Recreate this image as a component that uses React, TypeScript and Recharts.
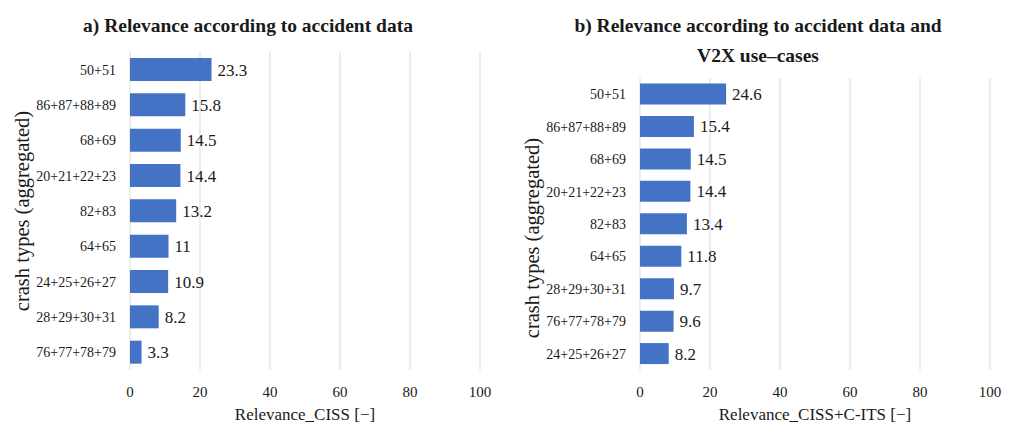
import { BarChart, Bar, XAxis, YAxis, CartesianGrid, LabelList, Label } from "recharts"

const FONT = "Liberation Serif, DejaVu Serif, serif"
const BAR_COLOR = "#4472C4"
const GRID_COLOR = "#d9d9d9"
const TEXT_COLOR = "#1a1a1a"

const X_TICKS = [0, 20, 40, 60, 80, 100]

// a) accident data only
const crashTypesA = [
  "50+51",
  "86+87+88+89",
  "68+69",
  "20+21+22+23",
  "82+83",
  "64+65",
  "24+25+26+27",
  "28+29+30+31",
  "76+77+78+79",
]
const relevanceA = [23.3, 15.8, 14.5, 14.4, 13.2, 11, 10.9, 8.2, 3.3]

// b) accident data + V2X use-cases
const crashTypesB = [
  "50+51",
  "86+87+88+89",
  "68+69",
  "20+21+22+23",
  "82+83",
  "64+65",
  "28+29+30+31",
  "76+77+78+79",
  "24+25+26+27",
]
const relevanceB = [24.6, 15.4, 14.5, 14.4, 13.4, 11.8, 9.7, 9.6, 8.2]

type PanelProps = {
  categories: string[]
  values: number[]
  xLabel: string
  top: number
  yLabelShift?: number
}

function RotatedLabel({ viewBox, shift }: any) {
  const cx = 22
  const cy = viewBox.y + viewBox.height / 2 + (shift ?? 0)
  return (
    <text
      x={cx}
      y={cy}
      transform={`rotate(-90 ${cx} ${cy})`}
      textAnchor="middle"
      dominantBaseline="central"
      style={{ fontFamily: FONT, fontSize: 20.5, fill: TEXT_COLOR }}
    >
      crash types (aggregated)
    </text>
  )
}

function Panel({ categories, values, xLabel, top, yLabelShift }: PanelProps) {
  const data = categories.map((c, i) => ({ type: c, value: values[i] }))
  return (
    <BarChart
      width={500}
      height={427}
      data={data}
      layout="vertical"
      margin={{ top, right: 20, bottom: 0, left: 0 }}
      barCategoryGap="17%"
      style={{ fontFamily: FONT }}
    >
      <CartesianGrid horizontal={false} stroke={GRID_COLOR} strokeWidth={1} />
      <XAxis
        type="number"
        domain={[0, 100]}
        ticks={X_TICKS}
        axisLine={false}
        tickLine={false}
        tickMargin={10}
        height={57}
        tick={{ fontFamily: FONT, fontSize: 15, fill: TEXT_COLOR }}
      >
        <Label
          value={xLabel}
          position="insideBottom"
          offset={7}
          style={{ fontFamily: FONT, fontSize: 17, fill: TEXT_COLOR }}
        />
      </XAxis>
      <YAxis
        type="category"
        dataKey="type"
        width={130}
        axisLine={false}
        tickLine={false}
        tickMargin={8}
        interval={0}
        tick={{ fontFamily: FONT, fontSize: 14, fill: TEXT_COLOR }}
      >
        <Label content={(p: any) => <RotatedLabel {...p} shift={yLabelShift} />} />
      </YAxis>
      <Bar dataKey="value" fill={BAR_COLOR} isAnimationActive={false}>
        <LabelList
          dataKey="value"
          position="right"
          offset={6}
          style={{ fontFamily: FONT, fontSize: 17, fill: TEXT_COLOR }}
        />
      </Bar>
    </BarChart>
  )
}

const titleStyle: React.CSSProperties = {
  position: "absolute",
  fontFamily: FONT,
  fontWeight: "bold",
  fontSize: 19.5,
  color: TEXT_COLOR,
  textAlign: "center",
  lineHeight: "30px",
}

export default function App() {
  return (
    <div
      style={{
        position: "absolute",
        left: 0,
        top: 0,
        width: 1014,
        height: 427,
        background: "#fff",
        overflow: "hidden",
        fontFamily: FONT,
      }}
    >
      <div style={{ position: "absolute", left: 0, top: 0 }}>
        <Panel
          categories={crashTypesA}
          values={relevanceA}
          xLabel="Relevance_CISS [−]"
          top={52}
        />
      </div>
      <div style={{ position: "absolute", left: 510, top: 0 }}>
        <Panel
          categories={crashTypesB}
          values={relevanceB}
          xLabel="Relevance_CISS+C-ITS [−]"
          top={78}
          yLabelShift={14}
        />
      </div>
      <div style={{ ...titleStyle, left: 28, width: 440, top: 11 }}>
        a) Relevance according to accident data
      </div>
      <div style={{ ...titleStyle, left: 538, width: 440, top: 11 }}>
        b) Relevance according to accident data and
        <br />
        V2X use–cases
      </div>
    </div>
  )
}
